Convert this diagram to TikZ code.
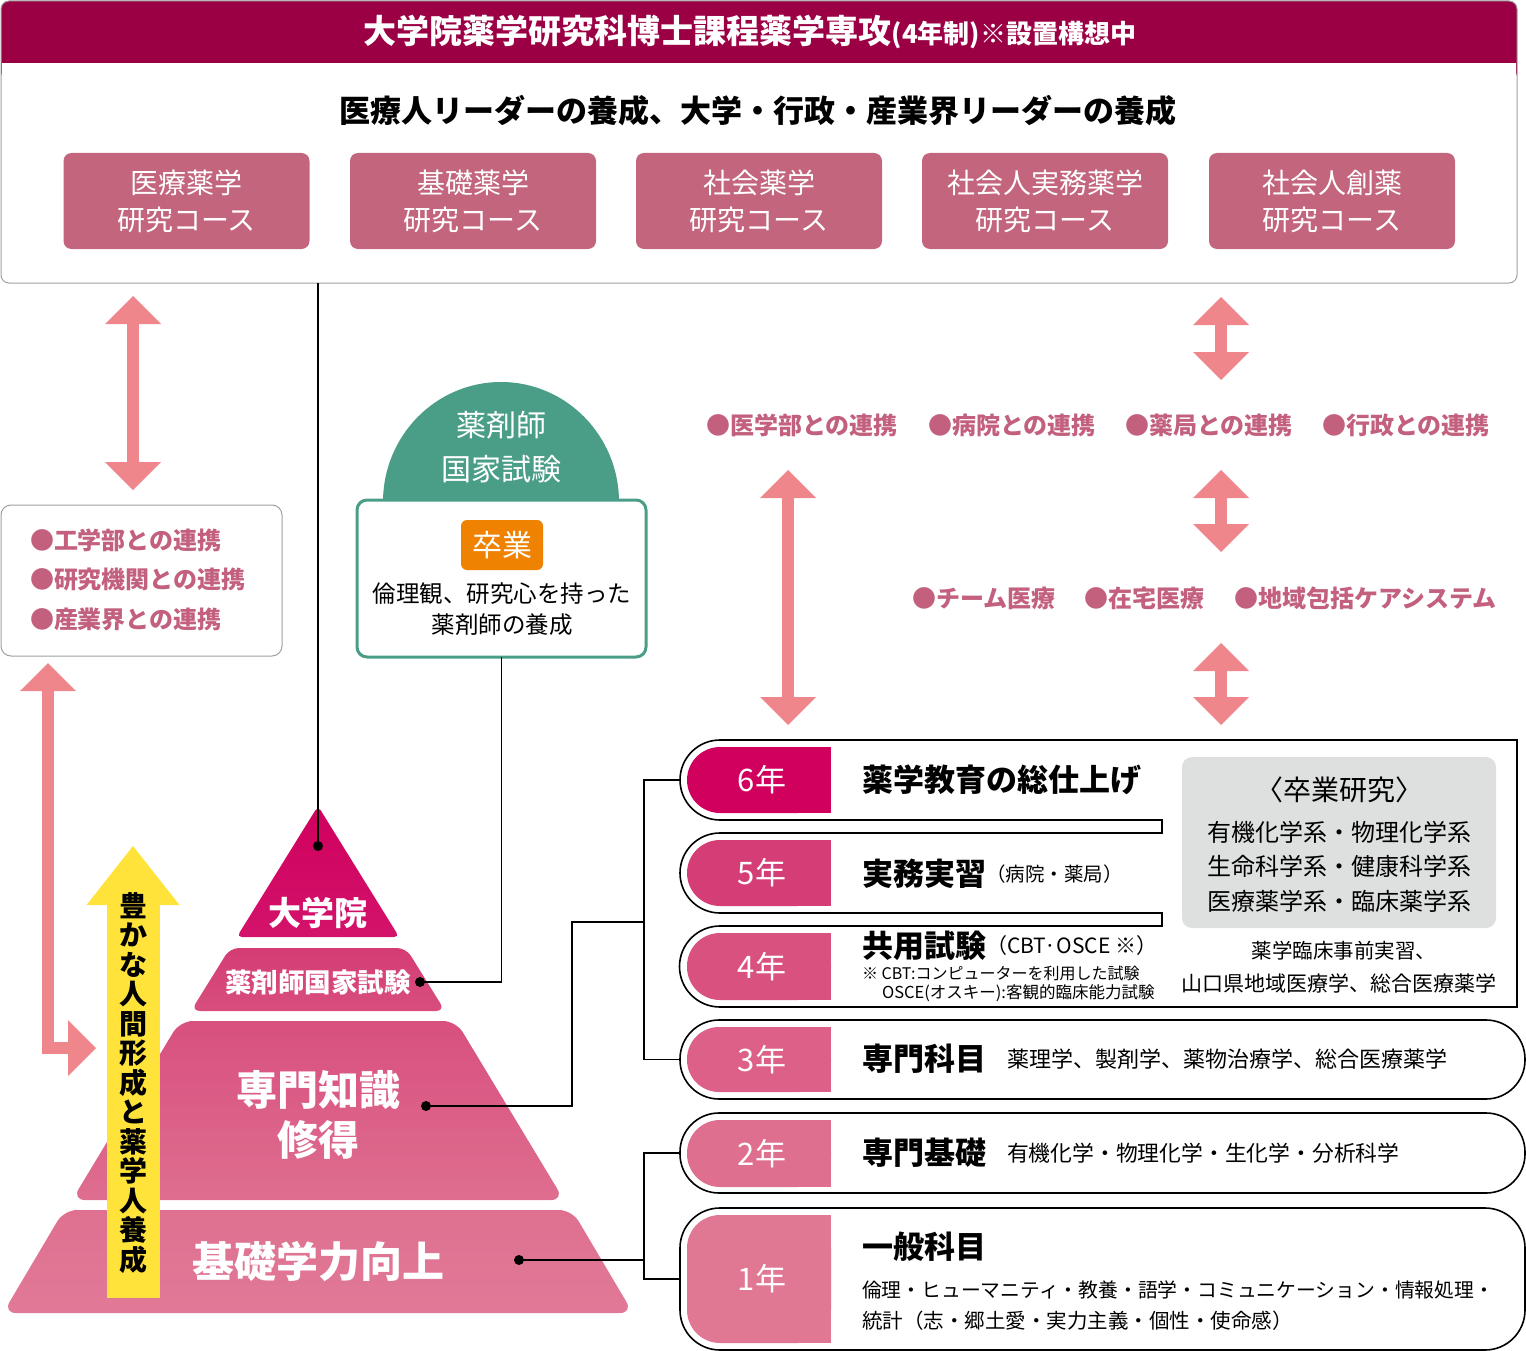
\documentclass[tikz,border=0pt]{standalone}
\usepackage{fontspec}
\setmainfont{Noto Sans CJK JP}
\usetikzlibrary{arrows.meta}
\newcommand\fsz[1]{\fontsize{#1}{#1}\selectfont}
\definecolor{crimson}{HTML}{9B0045}
\definecolor{coursec}{HTML}{C2657D}
\definecolor{salmon}{HTML}{EE868C}
\definecolor{mauve}{HTML}{C2607E}
\definecolor{gteal}{HTML}{4A9E88}
\definecolor{orng}{HTML}{EF8200}
\definecolor{yell}{HTML}{FFE33B}
\definecolor{lgray}{HTML}{DEDFDF}
\definecolor{bgray}{HTML}{A0A0A0}
\definecolor{pA}{HTML}{D0005E}
\definecolor{pAb}{HTML}{D3136B}
\definecolor{pB}{HTML}{D43C74}
\definecolor{pBb}{HTML}{D84E7E}
\definecolor{pC}{HTML}{D8507F}
\definecolor{pCb}{HTML}{DE6E8F}
\definecolor{pD}{HTML}{DF7090}
\definecolor{pDb}{HTML}{E07997}
\definecolor{yr6}{HTML}{D1005F}
\definecolor{yr5}{HTML}{D53D76}
\definecolor{yr4}{HTML}{D9527F}
\definecolor{yr3}{HTML}{DC6088}
\definecolor{yr2}{HTML}{DF6F8F}
\definecolor{yr1}{HTML}{E07894}
\begin{document}
\begin{tikzpicture}[x=1pt,y=-1pt,
  every node/.style={inner sep=0pt, outer sep=0pt},
  conn/.style={draw=black, line width=1.3pt},
  pinkarr/.style={draw=salmon, line width=12pt,
    {Triangle[width=56pt,length=28pt,line width=0pt]}-{Triangle[width=56pt,length=28pt,line width=0pt]}},
  course/.style={fill=coursec, rounded corners=8pt, minimum width=246pt, minimum height=96pt,
    text=white, align=center, font=\fontsize{28}{37}\selectfont},
  linktxt/.style={anchor=west, text=mauve, font=\bfseries\fsz{24}},
  dot/.style={circle, fill=black, minimum size=10pt},
  pyr/.style={text=white, font=\bfseries\fsz{#1}},
  yrlab/.style={text=white, font=\fsz{31}},
  head/.style={anchor=west, font=\bfseries\fsz{31}},
  outl/.style={draw=black, line width=1.6pt},
  gtxt/.style={font=\fsz{#1}}
]
\useasboundingbox (0,0) rectangle (1526,1351);

% ---------- top box ----------
\fill[crimson, rounded corners=8pt] (1,1) rectangle (1517,80);
\fill[white] (1.6,63) rectangle (1516.4,100);
\node[draw=bgray, line width=1pt, rounded corners=8pt, minimum width=1516pt, minimum height=282pt] (topbox) at (759,142) {};
\node[text=white, font=\bfseries] (title) at (750,32) {{\fsz{33}大学院薬学研究科博士課程薬学専攻}{\fsz{26}(4年制)※設置構想中}};
\node[font=\bfseries\fsz{31}] (sub) at (758,111) {医療人リーダーの養成、大学・行政・産業界リーダーの養成};
\node[course] (c1) at (186.5,201) {医療薬学\\研究コース};
\node[course] (c2) at (473,201) {基礎薬学\\研究コース};
\node[course] (c3) at (759,201) {社会薬学\\研究コース};
\node[course] (c4) at (1045,201) {社会人実務薬学\\研究コース};
\node[course] (c5) at (1332,201) {社会人創薬\\研究コース};

% ---------- left link box ----------
\node[draw=bgray, line width=1pt, fill=white, rounded corners=10pt, minimum width=281pt, minimum height=151pt] (lbox) at (141.5,580.5) {};
\node[linktxt] (l1) at (30,540) {●工学部との連携};
\node[linktxt] (l2) at (30,579) {●研究機関との連携};
\node[linktxt] (l3) at (30,619) {●産業界との連携};

% ---------- right link texts ----------
\node[linktxt] (r1) at (706,425) {●医学部との連携};
\node[linktxt] (r2) at (928,425) {●病院との連携};
\node[linktxt] (r3) at (1125,425) {●薬局との連携};
\node[linktxt] (r4) at (1322,425) {●行政との連携};
\node[linktxt] (s1) at (912,598) {●チーム医療};
\node[linktxt] (s2) at (1084,598) {●在宅医療};
\node[linktxt] (s3) at (1234,598) {●地域包括ケアシステム};

% ---------- pink arrows ----------
\coordinate (a1s) at (133,296); \coordinate (a1e) at (133,490);
\coordinate (a2s) at (48,663);  \coordinate (a2e) at (96,1048);
\coordinate (a3s) at (788,470); \coordinate (a3e) at (788,725);
\coordinate (a4s) at (1221,297); \coordinate (a4e) at (1221,380);
\coordinate (a5s) at (1221,470); \coordinate (a5e) at (1221,552);
\coordinate (a6s) at (1221,643); \coordinate (a6e) at (1221,725);
\draw[pinkarr] (a1s) -- (a1e);
\draw[pinkarr] (a2s) |- (a2e);
\draw[pinkarr] (a3s) -- (a3e);
\draw[pinkarr] (a4s) -- (a4e);
\draw[pinkarr] (a5s) -- (a5e);
\draw[pinkarr] (a6s) -- (a6e);

% ---------- exam dome + box ----------
\fill[gteal] (383,502) arc[start angle=180, end angle=360, x radius=118, y radius=120] -- cycle;
\node[text=white, font=\fsz{30}] (dome1) at (501,425) {薬剤師};
\node[text=white, font=\fsz{30}] (dome2) at (501,469) {国家試験};
\node[draw=gteal, line width=3pt, fill=white, rounded corners=10pt, minimum width=289pt, minimum height=157pt] (exbox) at (501.5,578.5) {};
\node[fill=orng, rounded corners=6pt, minimum width=82pt, minimum height=50pt, text=white, font=\fsz{30}] (grad) at (502,545) {卒業};
\node[font=\fsz{23.5}] (ex1) at (502,594) {倫理観、研究心を持った};
\node[font=\fsz{23.5}] (ex2) at (502,625) {薬剤師の養成};

% ---------- pyramid ----------
\shade[top color=pA, bottom color=pAb, rounded corners=5pt] (318,806) -- (399.2,937) -- (236.8,937) -- cycle;
\shade[top color=pB, bottom color=pBb, rounded corners=9pt] (230,948) -- (406,948) -- (445.1,1011) -- (190.9,1011) -- cycle;
\shade[top color=pC, bottom color=pCb, rounded corners=13pt] (180,1021) -- (456,1021) -- (564,1200) -- (72,1200) -- cycle;
\shade[top color=pD, bottom color=pDb, rounded corners=13pt] (64,1210) -- (572,1210) -- (633,1313) -- (3,1313) -- cycle;
\node[pyr=33] (p1) at (318,913) {大学院};
\node[pyr=26.5] (p2) at (318,982) {薬剤師国家試験};
\node[pyr=41, align=center, font=\bfseries\fontsize{41}{50}\selectfont] (p3) at (318,1115) {専門知識\\修得};
\node[pyr=42] (p4) at (318,1262) {基礎学力向上};

% ---------- yellow arrow ----------
\coordinate (ys) at (133,1298); \coordinate (ye) at (133,846);
\draw[yell, line width=53pt, -{Triangle[width=93pt,length=59pt,line width=0pt]}] (ys) -- (ye);
\node[align=center, font=\bfseries\fontsize{28}{29.5}\selectfont] (ytxt) at (133,1083) {豊\\か\\な\\人\\間\\形\\成\\と\\薬\\学\\人\\養\\成};

% ---------- dots ----------
\node[dot] (d1) at (318,846) {};
\node[dot] (d2) at (420,982) {};
\node[dot] (d3) at (426,1106) {};
\node[dot] (d4) at (519,1260) {};

% ---------- year boxes ----------
\draw[outl] (720,740) -- (1517,740) -- (1517,1007) -- (720,1007)
  arc[start angle=90, end angle=270, radius=40.5]
  -- (1162,926) -- (1162,913) -- (720,913)
  arc[start angle=90, end angle=270, radius=40]
  -- (1162,833) -- (1162,820) -- (720,820)
  arc[start angle=90, end angle=270, radius=40] -- cycle;
\coordinate (g6) at (680,780);
\node[outl, rounded corners=39pt, minimum width=845pt, minimum height=79pt] (b3) at (1102.5,1059.5) {};
\node[outl, rounded corners=39pt, minimum width=845pt, minimum height=80pt] (b2) at (1102.5,1153) {};
\node[outl, rounded corners=40pt, minimum width=845pt, minimum height=142pt] (b1) at (1102.5,1279) {};

% labels
\fill[yr6, rounded corners=33pt] (687,747) rectangle (831,813);  \fill[yr6] (780,747) rectangle (831,813);
\fill[yr5, rounded corners=33pt] (687,840) rectangle (831,906);  \fill[yr5] (780,840) rectangle (831,906);
\fill[yr4, rounded corners=33pt] (687,933) rectangle (831,1000); \fill[yr4] (780,933) rectangle (831,1000);
\fill[yr3, rounded corners=32pt] (687,1027) rectangle (831,1092); \fill[yr3] (780,1027) rectangle (831,1092);
\fill[yr2, rounded corners=33pt] (687,1120) rectangle (831,1187); \fill[yr2] (780,1120) rectangle (831,1187);
\fill[yr1, rounded corners=33pt] (687,1215) rectangle (831,1343); \fill[yr1] (780,1215) rectangle (831,1343);
\node[yrlab] (y6) at (762,780) {6年};
\node[yrlab] (y5) at (762,873) {5年};
\node[yrlab] (y4) at (762,967) {4年};
\node[yrlab] (y3) at (762,1060) {3年};
\node[yrlab] (y2) at (762,1154) {2年};
\node[yrlab] (y1) at (762,1279) {1年};

% row texts
\node[head] (h6) at (862,780) {薬学教育の総仕上げ};
\node[head] (h5) at (862,874) {実務実習};
\node[anchor=west, font=\fsz{19.5}] (h5b) at (h5.east) {（病院・薬局）};
\node[head] (h4) at (862,946) {共用試験};
\node[anchor=west, font=\fsz{21}] (h4b) at (h4.east) {（CBT·OSCE ※）};
\node[anchor=west, font=\fsz{16}] (n1) at (862,973) {※ CBT:コンピューターを利用した試験};
\node[anchor=west, font=\fsz{16.5}] (n2) at (882,993) {OSCE(オスキー):客観的臨床能力試験};

\node[fill=lgray, rounded corners=10pt, minimum width=314pt, minimum height=171pt] (sotsu) at (1339,842.5) {};
\node[gtxt=28] (st0) at (1339,790) {〈卒業研究〉};
\node[gtxt=24] (st1) at (1339,832) {有機化学系・物理化学系};
\node[gtxt=24] (st2) at (1339,866) {生命科学系・健康科学系};
\node[gtxt=24] (st3) at (1339,901) {医療薬学系・臨床薬学系};
\node[gtxt=20.5] (pr1) at (1344,951) {薬学臨床事前実習、};
\node[gtxt=21] (pr2) at (1339,983) {山口県地域医療学、総合医療薬学};

\node[head] (h3) at (862,1059) {専門科目};
\node[anchor=west, font=\fsz{22}] (h3b) at (1007,1059) {薬理学、製剤学、薬物治療学、総合医療薬学};
\node[head] (h2) at (862,1153) {専門基礎};
\node[anchor=west, font=\fsz{21.8}] (h2b) at (1007,1153) {有機化学・物理化学・生化学・分析科学};
\node[head] (h1) at (862,1247) {一般科目};
\node[anchor=west, font=\fsz{19.8}] (h1b) at (862,1290) {倫理・ヒューマニティ・教養・語学・コミュニケーション・情報処理・};
\node[anchor=west, font=\fsz{20.5}] (h1c) at (862,1321) {統計（志・郷土愛・実力主義・個性・使命感）};

% ---------- connectors ----------
\draw[conn] (topbox.south -| d1) -- (d1.center);
\draw[conn] (exbox.south) |- (d2.center);
\draw[conn] (d3.center) -- (572,1106) |- (644,922);
\draw[conn] (g6) -- (644,780) -- (644,1059.5) -- (b3.west);
\draw[conn] (d4.center) -- (644,1260);
\draw[conn] (b2.west) -- (644,1153) -- (644,1279) -- (b1.west);
\end{tikzpicture}
\end{document}
